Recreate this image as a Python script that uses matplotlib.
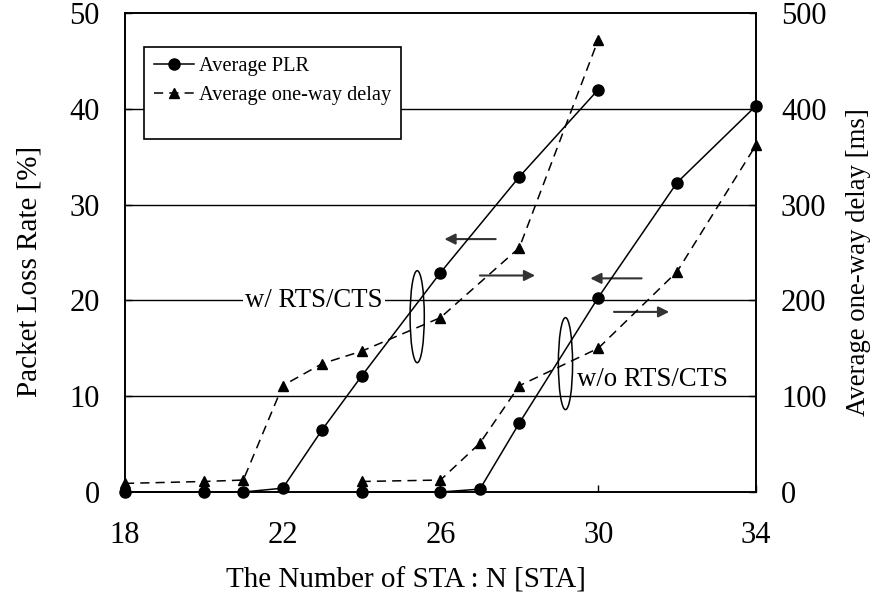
import matplotlib
matplotlib.use("Agg")
import matplotlib.pyplot as plt
from matplotlib.patches import Ellipse, Rectangle

plt.rcParams['font.family'] = ['Liberation Serif', 'DejaVu Serif']
plt.rcParams['mathtext.fontset'] = 'stix'

# With RTS/CTS
n_rts = [18, 20, 21, 22, 23, 24, 26, 28, 30]
plr_rts = [0.0, 0.0, 0.0, 0.4, 6.5, 12.1, 22.9, 32.9, 42.0]
delay_rts = [9, 11, 12.5, 111, 134, 147, 182, 255, 472]

# Without RTS/CTS
n_norts = [24, 26, 27, 28, 30, 32, 34]
plr_norts = [0.0, 0.0, 0.3, 7.2, 20.3, 32.3, 40.3]
delay_norts = [11, 12.5, 51, 111, 150, 230, 362]

x_ticks = [18, 22, 26, 30, 34]
plr_ticks = [0, 10, 20, 30, 40, 50]
delay_ticks = [0, 100, 200, 300, 400, 500]

fig = plt.figure(figsize=(8.79, 6.04), dpi=100)
ax = fig.add_axes([0.1422, 0.1854, 0.7178, 0.7931])
ax2 = ax.twinx()

ax.set_xlim(18, 34)
ax.set_ylim(0, 50)
ax2.set_ylim(0, 500)

# horizontal grid
for yv in plr_ticks[1:-1]:
    ax.axhline(yv, color='black', lw=1.0, zorder=1)

line_kw = dict(color='black', lw=1.1, clip_on=False, zorder=5)
dash = (0, (6, 4))

p1, = ax2.plot(n_rts, [v * 10 for v in plr_rts], marker='o', ms=8, ls='-', **line_kw)
ax2.plot(n_norts, [v * 10 for v in plr_norts], marker='o', ms=8, ls='-', **line_kw)
d1, = ax2.plot(n_rts, delay_rts, marker='^', ms=7, ls=dash, **line_kw)
ax2.plot(n_norts, delay_norts, marker='^', ms=7, ls=dash, **line_kw)

tick_fs = 22
ax.set_xticks(x_ticks)
ax.set_yticks(plr_ticks)
ax2.set_yticks(delay_ticks)
for a in (ax, ax2):
    a.tick_params(direction='in', length=5, width=1, labelsize=tick_fs, pad=18)
    for s in a.spines.values():
        s.set_linewidth(1.2)
ax.tick_params(axis='x', pad=21)

ax.set_xlabel('The Number of STA : N [STA]', fontsize=21)
ax.set_ylabel('Packet Loss Rate [%]', fontsize=21)
ax2.set_ylabel('Average one-way delay [ms]', fontsize=19.3)
ax.xaxis.set_label_coords(0.445, -0.158)
ax.yaxis.set_label_coords(-0.131, 0.461)
ax2.yaxis.set_label_coords(1.1426, 0.48)

# direction arrows (values on PLR scale)
arrows = [
    ((27.4, 26.4), (26.1, 26.4)),
    ((27.0, 22.6), (28.4, 22.6)),
    ((31.1, 22.3), (29.8, 22.3)),
    ((30.4, 18.8), (31.8, 18.8)),
]
for (x0, y0), (x1, y1) in arrows:
    ax2.annotate('', xy=(x1, y1 * 10), xytext=(x0, y0 * 10),
                 arrowprops=dict(arrowstyle='-|>', color='#333333', lw=1.5,
                                 mutation_scale=16, shrinkA=0, shrinkB=0))

# group ellipses
for cx, cy in [(25.41, 18.3), (29.17, 13.4)]:
    ax2.add_patch(Ellipse((cx, cy * 10), 0.36, 96, fill=False, ec='black', lw=1.1, zorder=6))

ax2.text(21.05, 200, 'w/ RTS/CTS', fontsize=19.3, va='center', ha='left',
         bbox=dict(facecolor='white', edgecolor='none', pad=2), zorder=4)
ax2.text(29.45, 117, 'w/o RTS/CTS', fontsize=19.3, va='center', ha='left', zorder=4)

# legend box
ax2.add_patch(Rectangle((0.0301, 0.737), 0.4073, 0.192, transform=ax2.transAxes,
                        facecolor='white', edgecolor='black', lw=1.2, zorder=9))
leg = ax2.legend([p1, d1], ['Average PLR', 'Average one-way delay'],
                 loc='upper left', bbox_to_anchor=(0.03, 0.929), fontsize=14.7,
                 frameon=False, handlelength=2.0, handletextpad=0.25, borderpad=0.47,
                 labelspacing=0.5, borderaxespad=0)
leg.set_zorder(10)

fig.savefig('out.png', dpi=100)
